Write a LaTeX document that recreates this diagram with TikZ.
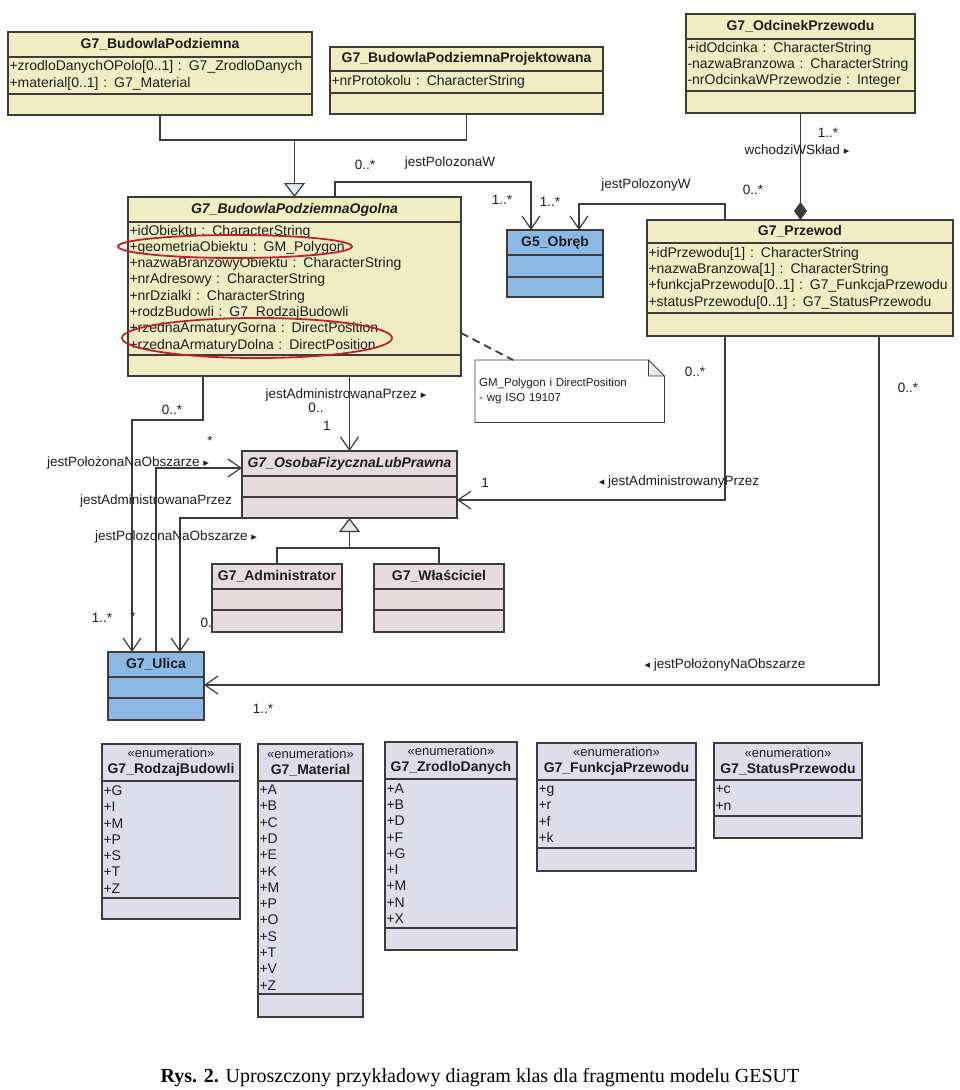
\documentclass[tikz,border=0pt]{standalone}
\usepackage{fontspec}
\setmainfont{Liberation Sans}
\newfontfamily\podpis{Liberation Serif}
\newfontfamily\symbole{DejaVu Sans}
\usepackage{xcolor}
\usetikzlibrary{calc}
\usetikzlibrary{arrows.meta}

\definecolor{zolty}{RGB}{240,236,196}
\definecolor{niebieski}{RGB}{140,184,228}
\definecolor{rozowy}{RGB}{230,219,221}
\definecolor{fiolet}{RGB}{221,221,236}
\definecolor{linia}{RGB}{60,60,60}
\definecolor{tekst}{RGB}{30,30,30}
\definecolor{czerwony}{RGB}{190,35,45}
\definecolor{grot}{RGB}{228,234,242}

\newcommand{\prawo}{{\symbole\fontsize{11}{11}\selectfont ▸}}
\newcommand{\lewo}{{\symbole\fontsize{11}{11}\selectfont ◂}}

\begin{document}
\begin{tikzpicture}[x=1pt, y=-1pt]

\tikzset{
    przedzial/.style = {
    draw=linia, line width=1.2pt,
    anchor=north west, outer sep=0pt, inner sep=0pt,
    text=tekst, font=\fontsize{14}{16.3}\selectfont
    }
}

\tikzstyle{naglowek}=[przedzial, font=\fontsize{14}{16.3}\selectfont\bfseries, align=center]
\tikzstyle{abstrakcyjna}=[naglowek, font=\fontsize{14}{16.3}\selectfont\bfseries\itshape]
\tikzstyle{atrybuty}=[przedzial, align=left, inner xsep=1.5pt]
\tikzstyle{zolta}=[fill=zolty]
\tikzstyle{niebieska}=[fill=niebieski]
\tikzstyle{rozowa}=[fill=rozowy]
\tikzstyle{wyliczenie}=[fill=fiolet]
\tikzstyle{etykieta}=[text=tekst, inner sep=0pt, font=\fontsize{13.5}{15}\selectfont]
\tikzstyle{polaczenie}=[draw=linia, line width=1.2pt]
\tikzstyle{asocjacja}=[polaczenie, -{Straight Barb[length=13pt,width=18pt]}]
\tikzstyle{uogolnienie}=[polaczenie, -{Triangle[length=14pt,width=21pt,fill=grot]}]
\tikzstyle{kompozycja}=[polaczenie, -{Diamond[length=18pt,width=13pt]}]
\tikzstyle{elipsa}=[draw=czerwony, line width=1.8pt]

\fill[white] (0,0) rectangle (960,1090);
\useasboundingbox (0,0) rectangle (960,1090);

% klasy
\node (bpHdr) [naglowek, zolta, minimum width=304pt, minimum height=25pt] at (8,32) {G7\_BudowlaPodziemna};
\node (bpAttr) [atrybuty, zolta, text width=301pt, minimum height=37pt] at (bpHdr.south west) {+zrodloDanychOPolo[0..1] : G7\_ZrodloDanych\\+material[0..1] : G7\_Material};
\node (bpOps) [przedzial, zolta, minimum width=304pt, minimum height=21pt] at (bpAttr.south west) {};

\node (bppHdr) [naglowek, zolta, minimum width=273pt, minimum height=24pt] at (330,47) {G7\_BudowlaPodziemnaProjektowana};
\node (bppAttr) [atrybuty, zolta, text width=270pt, minimum height=22pt] at (bppHdr.south west) {+nrProtokolu : CharacterString};
\node (bppOps) [przedzial, zolta, minimum width=273pt, minimum height=21pt] at (bppAttr.south west) {};

\node (odcHdr) [naglowek, zolta, minimum width=229pt, minimum height=25pt] at (686,14) {G7\_OdcinekPrzewodu};
\node (odcAttr) [atrybuty, zolta, text width=226pt, minimum height=52pt] at (odcHdr.south west) {+idOdcinka : CharacterString\\-nazwaBranzowa : CharacterString\\-nrOdcinkaWPrzewodzie : Integer};
\node (odcOps) [przedzial, zolta, minimum width=229pt, minimum height=22pt] at (odcAttr.south west) {};

\node (ogolHdr) [abstrakcyjna, zolta, minimum width=333pt, minimum height=25pt] at (128,197) {G7\_BudowlaPodziemnaOgolna};
\node (ogolAttr) [atrybuty, zolta, text width=330pt, minimum height=133pt] at (ogolHdr.south west) {+idObiektu : CharacterString\\+geometriaObiektu : GM\_Polygon\\+nazwaBranzowyObiektu : CharacterString\\+nrAdresowy : CharacterString\\+nrDzialki : CharacterString\\+rodzBudowli : G7\_RodzajBudowli\\+rzednaArmaturyGorna : DirectPosition\\+rzednaArmaturyDolna : DirectPosition};
\node (ogolOps) [przedzial, zolta, minimum width=333pt, minimum height=21pt] at (ogolAttr.south west) {};

\node (obrebHdr) [naglowek, niebieska, minimum width=96pt, minimum height=25pt] at (507,230) {G5\_Obręb};
\node (obrebAttr) [przedzial, niebieska, minimum width=96pt, minimum height=22pt] at (obrebHdr.south west) {};
\node (obrebOps) [przedzial, niebieska, minimum width=96pt, minimum height=20pt] at (obrebAttr.south west) {};

\node (przewHdr) [naglowek, zolta, minimum width=306pt, minimum height=23pt] at (647,220) {G7\_Przewod};
\node (przewAttr) [atrybuty, zolta, text width=303pt, minimum height=70pt] at (przewHdr.south west) {+idPrzewodu[1] : CharacterString\\+nazwaBranzowa[1] : CharacterString\\+funkcjaPrzewodu[0..1] : G7\_FunkcjaPrzewodu\\+statusPrzewodu[0..1] : G7\_StatusPrzewodu};
\node (przewOps) [przedzial, zolta, minimum width=306pt, minimum height=23pt] at (przewAttr.south west) {};

\node (osobaHdr) [abstrakcyjna, rozowa, minimum width=215pt, minimum height=25pt] at (242,451) {G7\_OsobaFizycznaLubPrawna};
\node (osobaAttr) [przedzial, rozowa, minimum width=215pt, minimum height=21pt] at (osobaHdr.south west) {};
\node (osobaOps) [przedzial, rozowa, minimum width=215pt, minimum height=21pt] at (osobaAttr.south west) {};

\node (adminHdr) [naglowek, rozowa, minimum width=130pt, minimum height=25pt] at (212,564) {G7\_Administrator};
\node (adminAttr) [przedzial, rozowa, minimum width=130pt, minimum height=21pt] at (adminHdr.south west) {};
\node (adminOps) [przedzial, rozowa, minimum width=130pt, minimum height=22pt] at (adminAttr.south west) {};

\node (wlascHdr) [naglowek, rozowa, minimum width=130pt, minimum height=25pt] at (374,564) {G7\_Właściciel};
\node (wlascAttr) [przedzial, rozowa, minimum width=130pt, minimum height=21pt] at (wlascHdr.south west) {};
\node (wlascOps) [przedzial, rozowa, minimum width=130pt, minimum height=22pt] at (wlascAttr.south west) {};

\node (ulicaHdr) [naglowek, niebieska, minimum width=96pt, minimum height=25pt] at (108,652) {G7\_Ulica};
\node (ulicaAttr) [przedzial, niebieska, minimum width=96pt, minimum height=21pt] at (ulicaHdr.south west) {};
\node (ulicaOps) [przedzial, niebieska, minimum width=96pt, minimum height=22pt] at (ulicaAttr.south west) {};

% wyliczenia
\node (rodzHdr) [naglowek, wyliczenie, minimum width=138pt, minimum height=37pt] at (102,744) {{\mdseries\fontsize{13}{15}\selectfont «enumeration»}\\G7\_RodzajBudowli};
\node (rodzAttr) [atrybuty, wyliczenie, text width=135pt, minimum height=117pt] at (rodzHdr.south west) {+G\\+I\\+M\\+P\\+S\\+T\\+Z};
\node (rodzOps) [przedzial, wyliczenie, minimum width=138pt, minimum height=21pt] at (rodzAttr.south west) {};

\node (matHdr) [naglowek, wyliczenie, minimum width=105pt, minimum height=37pt] at (258,744) {{\mdseries\fontsize{13}{15}\selectfont «enumeration»}\\G7\_Material};
\node (matAttr) [atrybuty, wyliczenie, text width=102pt, minimum height=213pt] at (matHdr.south west) {+A\\+B\\+C\\+D\\+E\\+K\\+M\\+P\\+O\\+S\\+T\\+V\\+Z};
\node (matOps) [przedzial, wyliczenie, minimum width=105pt, minimum height=23pt] at (matAttr.south west) {};

\node (zrodHdr) [naglowek, wyliczenie, minimum width=132pt, minimum height=37pt] at (385,742) {{\mdseries\fontsize{13}{15}\selectfont «enumeration»}\\G7\_ZrodloDanych};
\node (zrodAttr) [atrybuty, wyliczenie, text width=129pt, minimum height=149pt] at (zrodHdr.south west) {+A\\+B\\+D\\+F\\+G\\+I\\+M\\+N\\+X};
\node (zrodOps) [przedzial, wyliczenie, minimum width=132pt, minimum height=22pt] at (zrodAttr.south west) {};

\node (funHdr) [naglowek, wyliczenie, minimum width=159pt, minimum height=37pt] at (537,743) {{\mdseries\fontsize{13}{15}\selectfont «enumeration»}\\G7\_FunkcjaPrzewodu};
\node (funAttr) [atrybuty, wyliczenie, text width=156pt, minimum height=68pt] at (funHdr.south west) {+g\\+r\\+f\\+k};
\node (funOps) [przedzial, wyliczenie, minimum width=159pt, minimum height=23pt] at (funAttr.south west) {};

\node (statHdr) [naglowek, wyliczenie, minimum width=148pt, minimum height=37pt] at (714,743) {{\mdseries\fontsize{13}{15}\selectfont «enumeration»}\\G7\_StatusPrzewodu};
\node (statAttr) [atrybuty, wyliczenie, text width=145pt, minimum height=36pt] at (statHdr.south west) {+c\\+n};
\node (statOps) [przedzial, wyliczenie, minimum width=148pt, minimum height=22pt] at (statAttr.south west) {};

% notatka
\node (notka) [anchor=north west, minimum width=189pt, minimum height=62pt, text width=181pt, inner xsep=4pt, inner ysep=0pt, align=left, text=tekst, font=\fontsize{11.5}{15}\selectfont] at (475,360) {GM\_Polygon i DirectPosition\\- wg ISO 19107};
\draw[draw=linia, line width=0.8pt] (notka.north west) -- ([xshift=-16pt]notka.north east) -- ([yshift=-16pt]notka.north east) -- (notka.south east) -- (notka.south west) -- cycle;
\draw[draw=linia, line width=0.8pt, fill=grot] ([xshift=-16pt]notka.north east) |- ([yshift=-16pt]notka.north east) -- cycle;

% zaznaczenia
\draw[elipsa] (235,246.5) ellipse [x radius=117, y radius=11.5];
\draw[elipsa] (257,338) ellipse [x radius=135, y radius=20];

% polaczenia
\coordinate (genA) at (ogolHdr.north |- 0,140);
\draw[polaczenie] (bpOps.south) |- (genA) -| (bppOps.south);
\draw[uogolnienie] (genA) -- (ogolHdr.north);

\coordinate (genB) at (osobaOps.south |- 0,548);
\draw[polaczenie] (adminHdr.north) |- (genB) -| (wlascHdr.north);
\draw[uogolnienie] (genB) -- (osobaOps.south);

\draw[asocjacja] (335,0 |- ogolHdr.north) |- (531,182) -- (531,0 |- obrebHdr.north);
\draw[asocjacja] (725,0 |- przewHdr.north) |- (579,204) -- (579,0 |- obrebHdr.north);
\draw[kompozycja] (odcOps.south) -- (odcOps.south |- przewHdr.north);
\draw[asocjacja] (ogolOps.south -| osobaHdr.north) -- (osobaHdr.north);
\draw[asocjacja] (203,0 |- ogolOps.south) |- (132,420) -- (132,0 |- ulicaHdr.north);
\draw[asocjacja] (156,0 |- ulicaHdr.north) |- (osobaHdr.west |- 0,468);
\draw[asocjacja] (osobaOps.south west) -| (180,0 |- ulicaHdr.north);
\draw[asocjacja] (725,0 |- przewOps.south) |- (osobaOps.east |- 0,500);
\draw[asocjacja] (879,0 |- przewOps.south) |- (ulicaAttr.east |- 0,685);
\draw[polaczenie, line width=1.8pt, dash pattern=on 8pt off 5pt] (ogolAttr.east |- 0,333) -- (513,0 |- notka.north);

% etykiety
\node (m1) [etykieta] at (365,165) {0..*};
\node (l1) [etykieta] at (450,163) {jestPolozonaW};
\node (m2) [etykieta] at (502,200) {1..*};
\node (m3) [etykieta] at (550,202) {1..*};
\node (l2) [etykieta] at (646,185) {jestPolozonyW};
\node (l3) [etykieta] at (797,150) {wchodziWSkład \prawo};
\node (m4) [etykieta] at (828,133) {1..*};
\node (m5) [etykieta] at (753,190) {0..*};
\node (l4) [etykieta] at (346,395) {jestAdministrowanaPrzez \prawo};
\node (m6) [etykieta] at (316,408) {0..};
\node (m7) [etykieta] at (327,426) {1};
\node (m8) [etykieta] at (172,410) {0..*};
\node (m9) [etykieta] at (210,441) {*};
\node (l5) [etykieta] at (128,463) {jestPołożonaNaObszarze \prawo};
\node (l6) [etykieta] at (156,501) {jestAdministrowanaPrzez};
\node (l7) [etykieta] at (176,537) {jestPolozonaNaObszarze \prawo};
\node (m10) [etykieta] at (102,618) {1..*};
\node (m11) [etykieta] at (133,617) {*};
\node (m12) [etykieta, anchor=east] at (212,623) {0.};
\node (m13) [etykieta] at (485,483) {1};
\node (l8) [etykieta] at (679,482) {\lewo{} jestAdministrowanyPrzez};
\node (m14) [etykieta] at (695,372) {0..*};
\node (m15) [etykieta] at (908,388) {0..*};
\node (l9) [etykieta] at (725,665) {\lewo{} jestPołożonyNaObszarze};
\node (m16) [etykieta] at (263,709) {1..*};

% podpis
\node (podpis) at (480,1078) {\podpis\fontsize{20}{24}\selectfont\textbf{Rys. 2.} Uproszczony przykładowy diagram klas dla fragmentu modelu GESUT};

\end{tikzpicture}
\end{document}
